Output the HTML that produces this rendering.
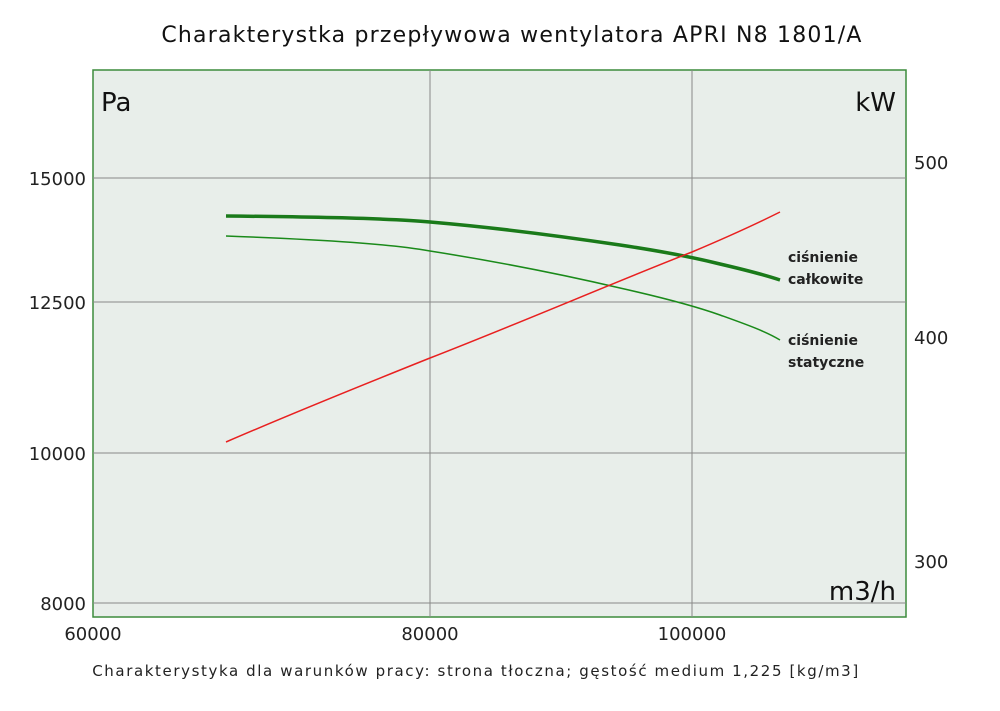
<!DOCTYPE html>
<html><head><meta charset="utf-8"><style>
body{margin:0;background:#fff;}
</style></head><body>
<svg width="1000" height="706" xmlns="http://www.w3.org/2000/svg" font-family="'DejaVu Sans','Liberation Sans',sans-serif">
<rect width="1000" height="706" fill="#fff"/>
<text x="512" y="42" font-size="22" text-anchor="middle" fill="#111" letter-spacing="1.2">Charakterystka przepływowa wentylatora APRI N8 1801/A</text>
<rect x="93" y="70" width="813" height="547" fill="#e8eeea" stroke="#3c8c3c" stroke-width="1.5"/>
<g stroke="#888" stroke-width="1">
<line x1="93" y1="178" x2="906" y2="178"/>
<line x1="93" y1="302" x2="906" y2="302"/>
<line x1="93" y1="453" x2="906" y2="453"/>
<line x1="93" y1="603" x2="906" y2="603"/>
<line x1="430" y1="70" x2="430" y2="617"/>
<line x1="692" y1="70" x2="692" y2="617"/>
</g>
<g font-size="18" fill="#222">
<text x="86" y="185" text-anchor="end">15000</text>
<text x="86" y="309" text-anchor="end">12500</text>
<text x="86" y="460" text-anchor="end">10000</text>
<text x="86" y="610" text-anchor="end">8000</text>
<text x="93" y="640" text-anchor="middle">60000</text>
<text x="430" y="640" text-anchor="middle">80000</text>
<text x="692" y="640" text-anchor="middle">100000</text>
<text x="914" y="169">500</text>
<text x="914" y="344">400</text>
<text x="914" y="568">300</text>
</g>
<g font-size="26" fill="#111">
<text x="101" y="111">Pa</text>
<text x="896" y="111" text-anchor="end">kW</text>
<text x="896" y="600" text-anchor="end">m3/h</text>
</g>
<path d="M226,216 C330,217 400,219 430,222 C500,228 560,236 620,245 C660,251 692,257 720,264 C750,271 765,275 780,280" fill="none" stroke="#1a7a1a" stroke-width="3.5"/>
<path d="M226,236 C330,240 390,244 430,251 C500,262 560,274 620,288 C660,297 692,305 720,315 C745,324 765,331 780,340" fill="none" stroke="#1a8a1a" stroke-width="1.5"/>
<path d="M226,442 C300,410 380,378 430,358 C520,323 620,280 692,252 C730,236 760,222 780,212" fill="none" stroke="#e82020" stroke-width="1.5"/>
<g font-size="14" font-weight="bold" fill="#222">
<text x="788" y="262">ciśnienie</text>
<text x="788" y="284">całkowite</text>
<text x="788" y="345">ciśnienie</text>
<text x="788" y="367">statyczne</text>
</g>
<text x="476" y="676" font-size="15" text-anchor="middle" fill="#222" letter-spacing="1.6">Charakterystyka dla warunków pracy: strona tłoczna; gęstość medium 1,225 [kg/m3]</text>
</svg>
</body></html>
